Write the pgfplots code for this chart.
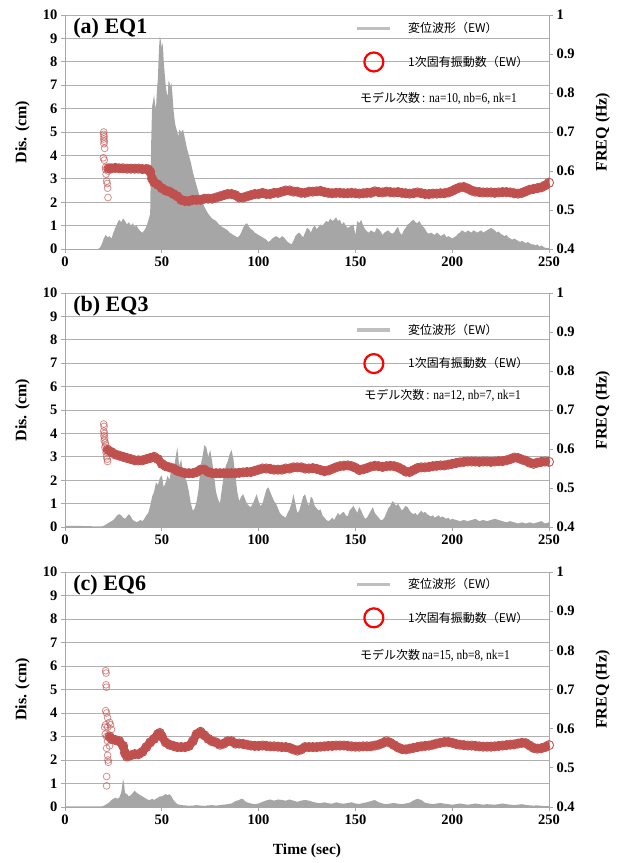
\documentclass[border=0pt]{standalone}
\usepackage{fontspec}
\setmainfont{Liberation Serif}
\newfontfamily\cjk{Noto Sans CJK JP}
\newfontfamily\condserif[FakeStretch=0.85]{Liberation Serif}
\usepackage{pgfplots}
\usepackage{pgfplotstable}
\pgfplotsset{compat=1.18}

\definecolor{dispgray}{HTML}{A6A6A6}
\definecolor{freqred}{HTML}{C0504D}
\definecolor{gridgray}{HTML}{B0B0B0}
\definecolor{axisgray}{HTML}{A8A8A8}
\definecolor{leggray}{HTML}{BFBFBF}
\definecolor{legred}{HTML}{FF0000}

% ---------- EQ1 ----------
\pgfplotstableread[row sep=\\]{t d\\
0 0\\ 17 0\\ 18 0.05\\ 19 0.2\\ 20 0.45\\ 21 0.6\\ 22 0.5\\ 23 0.55\\ 24 0.45\\ 25 0.7\\ 26 0.9\\ 27 1.1\\ 28 1.25\\ 29 1.15\\ 30 1.3\\ 31 1.2\\ 32 1.05\\ 33 1.15\\ 34 1.0\\ 35 1.1\\ 36 0.95\\ 37 1.0\\ 38 0.85\\ 39 0.75\\ 40 0.7\\ 41 0.8\\ 42 0.95\\ 43 1.2\\ 44 1.5\\ 44.5 4.5\\ 45 6.1\\ 45.5 6.3\\ 46 6.6\\ 46.5 6.2\\ 47 6.0\\ 47.5 6.8\\ 48 7.3\\ 48.5 8.5\\ 49 9.1\\ 49.5 8.9\\ 50 8.6\\ 50.5 8.8\\ 51 8.0\\ 51.5 7.5\\ 52 7.0\\ 52.5 6.7\\ 53 6.5\\ 53.5 7.2\\ 54 7.1\\ 54.5 6.9\\ 55 7.1\\ 55.5 6.6\\ 56 6.0\\ 56.5 5.6\\ 57 5.3\\ 58 5.0\\ 58.5 4.8\\ 59 5.1\\ 60 5.0\\ 61 5.1\\ 62 4.7\\ 63 4.3\\ 64 4.0\\ 65 3.7\\ 66 3.3\\ 67 3.0\\ 68 2.7\\ 69 2.4\\ 70 2.2\\ 71 2.0\\ 72 1.8\\ 73 1.65\\ 74 1.5\\ 75 1.4\\ 76 1.3\\ 77 1.25\\ 78 1.2\\ 79 1.1\\ 80 1.0\\ 81 0.95\\ 82 0.9\\ 83 0.85\\ 84 0.8\\ 85 0.7\\ 86 0.65\\ 87 0.6\\ 88 0.55\\ 89 0.5\\ 90 0.55\\ 91 0.7\\ 92 0.9\\ 93 1.05\\ 94 1.1\\ 95 0.95\\ 96 0.85\\ 97 0.8\\ 98 0.7\\ 99 0.65\\ 100 0.6\\ 101 0.55\\ 102 0.5\\ 103 0.45\\ 104 0.4\\ 105 0.3\\ 106 0.35\\ 107 0.45\\ 108 0.5\\ 109 0.55\\ 110 0.5\\ 111 0.45\\ 112 0.55\\ 113 0.5\\ 114 0.4\\ 115 0.3\\ 116 0.25\\ 117 0.2\\ 118 0.35\\ 119 0.55\\ 120 0.65\\ 121 0.7\\ 122 0.6\\ 123 0.5\\ 124 0.7\\ 125 0.9\\ 126 0.85\\ 127 0.7\\ 128 0.9\\ 129 1.0\\ 130 0.85\\ 131 0.95\\ 132 1.05\\ 133 1.0\\ 134 1.1\\ 135 1.2\\ 136 1.15\\ 137 1.3\\ 138 1.2\\ 139 1.25\\ 140 1.35\\ 141 1.2\\ 142 1.25\\ 143 1.05\\ 144 1.15\\ 145 1.0\\ 146 0.9\\ 147 0.95\\ 148 1.0\\ 149 1.05\\ 150 0.6\\ 151 1.2\\ 152 1.1\\ 153 1.25\\ 154 1.0\\ 155 0.85\\ 156 0.75\\ 157 0.7\\ 158 0.8\\ 159 0.75\\ 160 0.7\\ 161 0.9\\ 162 0.85\\ 163 0.75\\ 164 0.6\\ 165 0.7\\ 166 0.75\\ 167 0.8\\ 168 0.7\\ 169 0.65\\ 170 0.7\\ 171 0.85\\ 172 0.95\\ 173 0.7\\ 174 0.6\\ 175 0.8\\ 176 0.9\\ 177 1.05\\ 178 1.1\\ 179 1.2\\ 180 1.25\\ 181 1.15\\ 182 1.1\\ 183 1.2\\ 184 1.05\\ 185 0.95\\ 186 0.85\\ 187 0.7\\ 188 0.65\\ 189 0.7\\ 190 0.65\\ 191 0.6\\ 192 0.7\\ 193 0.65\\ 194 0.55\\ 195 0.6\\ 196 0.65\\ 197 0.5\\ 198 0.55\\ 199 0.5\\ 200 0.45\\ 201 0.5\\ 202 0.55\\ 203 0.65\\ 204 0.7\\ 205 0.8\\ 206 0.75\\ 207 0.7\\ 208 0.8\\ 209 0.75\\ 210 0.7\\ 211 0.8\\ 212 0.75\\ 213 0.7\\ 214 0.75\\ 215 0.8\\ 216 0.7\\ 217 0.75\\ 218 0.8\\ 219 0.85\\ 220 0.9\\ 221 0.85\\ 222 0.8\\ 223 0.7\\ 224 0.75\\ 225 0.65\\ 226 0.6\\ 227 0.55\\ 228 0.6\\ 229 0.5\\ 230 0.45\\ 231 0.4\\ 232 0.45\\ 233 0.4\\ 234 0.35\\ 235 0.3\\ 236 0.35\\ 237 0.3\\ 238 0.25\\ 239 0.3\\ 240 0.25\\ 241 0.2\\ 242 0.2\\ 243 0.15\\ 244 0.2\\ 245 0.1\\ 246 0.15\\ 247 0.1\\ 248 0.05\\ 249 0.05\\ 250 0.03\\
}\dispA

\pgfplotstableread[row sep=\\]{t f\\
20.0 0.700\\ 20.0 0.694\\ 20.2 0.688\\ 20.0 0.682\\ 20.3 0.676\\ 20.1 0.670\\ 20.5 0.658\\ 19.8 0.634\\ 20.3 0.628\\ 21.0 0.610\\ 21.2 0.592\\ 21.5 0.574\\ 21.8 0.568\\ 22.0 0.556\\ 22.2 0.532\\ 21.0 0.604\\ 22.3 0.600\\
}\scatA

\pgfplotstableread[row sep=\\]{t f\\
22.5 0.607\\ 24 0.607\\ 26 0.608\\ 28 0.607\\ 30 0.607\\ 32 0.606\\ 34 0.606\\ 36 0.606\\ 38 0.606\\ 40 0.605\\ 42 0.605\\ 43 0.604\\ 44 0.598\\ 45 0.580\\ 46 0.571\\ 48 0.565\\ 50 0.556\\ 52 0.550\\ 54 0.547\\ 56 0.541\\ 58 0.535\\ 60 0.526\\ 62 0.523\\ 64 0.523\\ 66 0.526\\ 68 0.526\\ 70 0.526\\ 72 0.529\\ 74 0.529\\ 76 0.529\\ 78 0.532\\ 80 0.535\\ 82 0.538\\ 84 0.541\\ 86 0.541\\ 88 0.538\\ 90 0.532\\ 92 0.532\\ 94 0.535\\ 96 0.538\\ 98 0.541\\ 100 0.541\\ 102 0.544\\ 104 0.541\\ 106 0.541\\ 108 0.544\\ 110 0.544\\ 112 0.547\\ 114 0.550\\ 116 0.550\\ 118 0.547\\ 120 0.547\\ 122 0.544\\ 124 0.544\\ 126 0.547\\ 128 0.547\\ 130 0.548\\ 132 0.549\\ 134 0.546\\ 136 0.544\\ 138 0.543\\ 140 0.544\\ 142 0.544\\ 144 0.543\\ 146 0.543\\ 148 0.544\\ 150 0.543\\ 152 0.542\\ 154 0.543\\ 156 0.544\\ 158 0.544\\ 160 0.548\\ 162 0.546\\ 164 0.545\\ 166 0.547\\ 168 0.546\\ 170 0.545\\ 172 0.546\\ 174 0.544\\ 176 0.543\\ 178 0.542\\ 180 0.543\\ 182 0.545\\ 184 0.543\\ 186 0.541\\ 188 0.541\\ 190 0.542\\ 192 0.542\\ 194 0.543\\ 196 0.543\\ 198 0.545\\ 200 0.549\\ 202 0.554\\ 204 0.558\\ 206 0.559\\ 208 0.555\\ 210 0.550\\ 212 0.547\\ 214 0.546\\ 216 0.545\\ 218 0.545\\ 220 0.545\\ 222 0.544\\ 224 0.545\\ 226 0.546\\ 228 0.546\\ 230 0.545\\ 232 0.543\\ 234 0.542\\ 236 0.544\\ 238 0.548\\ 240 0.552\\ 242 0.554\\ 244 0.556\\ 246 0.558\\ 248 0.563\\ 250 0.570\\
}\bandA

% ---------- EQ3 ----------
\pgfplotstableread[row sep=\\]{t d\\
0 0.05\\ 5 0.05\\ 10 0.04\\ 15 0.03\\ 19 0.03\\ 20 0.05\\ 21 0.1\\ 22 0.15\\ 23 0.2\\ 24 0.25\\ 25 0.3\\ 26 0.4\\ 27 0.5\\ 28 0.55\\ 29 0.5\\ 30 0.4\\ 31 0.35\\ 32 0.45\\ 33 0.55\\ 34 0.45\\ 35 0.3\\ 36 0.25\\ 37 0.2\\ 38 0.25\\ 39 0.3\\ 40 0.25\\ 41 0.35\\ 42 0.5\\ 43 0.6\\ 44 0.9\\ 45 1.3\\ 46 1.5\\ 47 1.9\\ 48 1.8\\ 49 2.1\\ 50 2.2\\ 51 1.7\\ 52 1.9\\ 53 2.2\\ 54 2.0\\ 55 2.6\\ 56 2.4\\ 57 2.9\\ 58 3.4\\ 59 2.6\\ 60 2.9\\ 61 2.3\\ 62 2.1\\ 63 1.9\\ 64 1.5\\ 65 1.0\\ 66 0.7\\ 67 0.8\\ 68 1.1\\ 69 1.6\\ 70 2.6\\ 71 3.0\\ 72 3.5\\ 73 3.4\\ 74 3.0\\ 75 3.3\\ 76 2.8\\ 77 2.2\\ 78 1.5\\ 79 1.2\\ 80 1.0\\ 81 1.6\\ 82 2.2\\ 83 2.6\\ 84 2.8\\ 85 3.1\\ 86 3.3\\ 87 2.9\\ 88 2.2\\ 89 1.5\\ 90 1.1\\ 91 1.3\\ 92 1.4\\ 93 1.2\\ 94 1.0\\ 95 0.9\\ 96 0.85\\ 97 1.0\\ 98 1.2\\ 99 1.4\\ 100 1.1\\ 101 0.9\\ 102 1.0\\ 103 1.3\\ 104 1.6\\ 105 1.7\\ 106 1.5\\ 107 1.3\\ 108 1.1\\ 109 1.0\\ 110 0.8\\ 111 0.6\\ 112 0.5\\ 113 0.45\\ 114 0.4\\ 115 0.6\\ 116 0.75\\ 117 1.0\\ 118 1.4\\ 119 1.0\\ 120 0.6\\ 121 0.7\\ 122 1.0\\ 123 1.3\\ 124 1.4\\ 125 1.1\\ 126 0.9\\ 127 1.3\\ 128 1.2\\ 129 0.9\\ 130 0.8\\ 131 0.7\\ 132 0.75\\ 133 0.5\\ 134 0.4\\ 135 0.3\\ 136 0.25\\ 137 0.3\\ 138 0.4\\ 139 0.3\\ 140 0.45\\ 141 0.6\\ 142 0.5\\ 143 0.6\\ 144 0.65\\ 145 0.5\\ 146 0.45\\ 147 0.7\\ 148 0.8\\ 149 0.9\\ 150 0.75\\ 151 0.6\\ 152 0.85\\ 153 0.7\\ 154 0.5\\ 155 0.35\\ 156 0.4\\ 157 0.55\\ 158 0.7\\ 159 0.85\\ 160 0.6\\ 161 0.5\\ 162 0.4\\ 163 0.3\\ 164 0.3\\ 165 0.4\\ 166 0.6\\ 167 0.8\\ 168 0.9\\ 169 1.1\\ 170 1.05\\ 171 0.9\\ 172 1.0\\ 173 0.85\\ 174 0.7\\ 175 0.8\\ 176 0.9\\ 177 0.85\\ 178 0.7\\ 179 0.6\\ 180 0.55\\ 181 0.6\\ 182 0.5\\ 183 0.6\\ 184 0.7\\ 185 0.6\\ 186 0.65\\ 187 0.55\\ 188 0.5\\ 189 0.45\\ 190 0.5\\ 191 0.4\\ 192 0.45\\ 193 0.5\\ 194 0.4\\ 195 0.45\\ 196 0.4\\ 197 0.35\\ 198 0.4\\ 199 0.3\\ 200 0.35\\ 202 0.3\\ 204 0.25\\ 206 0.3\\ 208 0.25\\ 210 0.3\\ 212 0.35\\ 214 0.25\\ 216 0.3\\ 218 0.25\\ 220 0.3\\ 222 0.35\\ 224 0.3\\ 226 0.25\\ 228 0.2\\ 230 0.25\\ 232 0.2\\ 234 0.15\\ 236 0.2\\ 238 0.15\\ 240 0.2\\ 242 0.15\\ 244 0.2\\ 246 0.25\\ 248 0.15\\ 250 0.2\\
}\dispB

\pgfplotstableread[row sep=\\]{t f\\
20.0 0.664\\ 20.2 0.658\\ 20.0 0.646\\ 20.4 0.640\\ 20.1 0.634\\ 20.5 0.628\\ 20.3 0.622\\ 20.8 0.616\\ 21.0 0.610\\ 20.6 0.604\\ 21.2 0.592\\ 21.5 0.580\\ 21.8 0.574\\ 22.0 0.568\\
}\scatB

\pgfplotstableread[row sep=\\]{t f\\
22 0.598\\ 24 0.592\\ 26 0.586\\ 28 0.583\\ 30 0.580\\ 32 0.577\\ 34 0.574\\ 36 0.571\\ 38 0.571\\ 40 0.571\\ 42 0.574\\ 44 0.577\\ 46 0.580\\ 48 0.574\\ 50 0.562\\ 52 0.556\\ 54 0.553\\ 56 0.550\\ 58 0.544\\ 60 0.541\\ 62 0.538\\ 64 0.538\\ 66 0.538\\ 68 0.541\\ 70 0.547\\ 72 0.547\\ 74 0.541\\ 76 0.538\\ 78 0.538\\ 80 0.538\\ 82 0.538\\ 84 0.538\\ 86 0.538\\ 88 0.538\\ 90 0.539\\ 92 0.540\\ 94 0.541\\ 96 0.541\\ 98 0.544\\ 100 0.547\\ 102 0.550\\ 104 0.550\\ 106 0.549\\ 108 0.547\\ 110 0.547\\ 112 0.547\\ 114 0.550\\ 116 0.550\\ 118 0.553\\ 120 0.553\\ 122 0.553\\ 124 0.550\\ 126 0.550\\ 128 0.551\\ 130 0.549\\ 132 0.546\\ 134 0.543\\ 136 0.545\\ 138 0.549\\ 140 0.553\\ 142 0.556\\ 144 0.557\\ 146 0.558\\ 148 0.556\\ 150 0.552\\ 152 0.546\\ 154 0.548\\ 156 0.551\\ 158 0.555\\ 160 0.557\\ 162 0.556\\ 164 0.554\\ 166 0.556\\ 168 0.557\\ 170 0.556\\ 172 0.553\\ 174 0.548\\ 176 0.542\\ 178 0.541\\ 180 0.546\\ 182 0.551\\ 184 0.553\\ 186 0.553\\ 188 0.554\\ 190 0.556\\ 192 0.557\\ 194 0.558\\ 196 0.558\\ 198 0.560\\ 200 0.562\\ 202 0.564\\ 204 0.566\\ 206 0.567\\ 208 0.568\\ 210 0.568\\ 212 0.568\\ 214 0.567\\ 216 0.568\\ 218 0.568\\ 220 0.567\\ 222 0.568\\ 224 0.569\\ 226 0.569\\ 228 0.571\\ 230 0.574\\ 232 0.578\\ 234 0.577\\ 236 0.573\\ 238 0.570\\ 240 0.565\\ 242 0.562\\ 244 0.565\\ 246 0.567\\ 248 0.568\\ 250 0.567\\
}\bandB

% ---------- EQ6 ----------
\pgfplotstableread[row sep=\\]{t d\\
0 0.03\\ 10 0.03\\ 19 0.03\\ 20 0.05\\ 21 0.1\\ 22 0.15\\ 23 0.2\\ 24 0.3\\ 25 0.35\\ 26 0.4\\ 27 0.35\\ 28 0.4\\ 29 0.6\\ 30 1.2\\ 30.5 1.0\\ 31 0.6\\ 32 0.55\\ 33 0.45\\ 34 0.5\\ 35 0.6\\ 36 0.7\\ 37 0.6\\ 38 0.55\\ 39 0.5\\ 40 0.45\\ 41 0.4\\ 42 0.35\\ 43 0.3\\ 44 0.3\\ 45 0.35\\ 46 0.3\\ 47 0.35\\ 48 0.4\\ 49 0.45\\ 50 0.45\\ 51 0.5\\ 52 0.55\\ 53 0.5\\ 54 0.55\\ 55 0.45\\ 56 0.3\\ 57 0.2\\ 58 0.12\\ 59 0.1\\ 60 0.08\\ 62 0.07\\ 64 0.05\\ 66 0.06\\ 68 0.08\\ 70 0.06\\ 72 0.05\\ 74 0.07\\ 76 0.08\\ 78 0.06\\ 80 0.08\\ 82 0.1\\ 84 0.12\\ 86 0.15\\ 88 0.25\\ 90 0.3\\ 91 0.35\\ 92 0.33\\ 93 0.25\\ 94 0.2\\ 96 0.15\\ 98 0.12\\ 100 0.15\\ 102 0.22\\ 104 0.28\\ 106 0.32\\ 108 0.27\\ 110 0.32\\ 112 0.3\\ 114 0.27\\ 116 0.32\\ 118 0.27\\ 120 0.22\\ 122 0.27\\ 124 0.3\\ 126 0.27\\ 128 0.22\\ 130 0.18\\ 132 0.16\\ 134 0.2\\ 136 0.16\\ 138 0.14\\ 140 0.2\\ 142 0.16\\ 144 0.14\\ 146 0.17\\ 148 0.2\\ 150 0.15\\ 152 0.13\\ 154 0.17\\ 156 0.2\\ 158 0.25\\ 160 0.3\\ 162 0.2\\ 164 0.15\\ 166 0.12\\ 168 0.15\\ 170 0.17\\ 172 0.14\\ 174 0.12\\ 176 0.15\\ 178 0.18\\ 180 0.28\\ 182 0.35\\ 184 0.3\\ 186 0.18\\ 188 0.15\\ 190 0.12\\ 192 0.15\\ 194 0.17\\ 196 0.14\\ 198 0.12\\ 200 0.1\\ 202 0.12\\ 204 0.15\\ 206 0.12\\ 208 0.1\\ 210 0.12\\ 212 0.15\\ 214 0.12\\ 216 0.1\\ 218 0.12\\ 220 0.11\\ 222 0.1\\ 224 0.12\\ 226 0.15\\ 228 0.12\\ 230 0.1\\ 232 0.08\\ 234 0.1\\ 236 0.12\\ 238 0.09\\ 240 0.07\\ 242 0.06\\ 244 0.07\\ 246 0.05\\ 248 0.04\\ 250 0.04\\
}\dispC

\pgfplotstableread[row sep=\\]{t f\\
21.0 0.748\\ 21.2 0.742\\ 21.2 0.712\\ 21.4 0.706\\ 21.0 0.646\\ 21.5 0.640\\ 22.0 0.628\\ 23.0 0.616\\ 21.0 0.610\\ 22.0 0.604\\ 23.5 0.610\\ 24.0 0.598\\ 21.5 0.580\\ 22.0 0.568\\ 21.5 0.550\\ 23.0 0.556\\ 22.0 0.532\\ 22.2 0.520\\ 22.4 0.514\\ 21.5 0.478\\ 21.5 0.454\\ 20.5 0.604\\ 20.8 0.586\\
}\scatC

\pgfplotstableread[row sep=\\]{t f\\
23 0.580\\ 24 0.574\\ 26 0.571\\ 28 0.568\\ 30 0.556\\ 31 0.538\\ 32 0.529\\ 34 0.532\\ 36 0.535\\ 38 0.535\\ 40 0.541\\ 42 0.553\\ 44 0.565\\ 46 0.574\\ 48 0.586\\ 49 0.589\\ 50 0.580\\ 52 0.565\\ 54 0.559\\ 56 0.556\\ 58 0.553\\ 60 0.553\\ 62 0.553\\ 64 0.556\\ 66 0.568\\ 68 0.586\\ 70 0.592\\ 72 0.583\\ 74 0.574\\ 76 0.568\\ 78 0.565\\ 80 0.559\\ 82 0.562\\ 84 0.568\\ 86 0.568\\ 88 0.562\\ 90 0.562\\ 92 0.561\\ 94 0.559\\ 96 0.557\\ 98 0.556\\ 100 0.556\\ 102 0.557\\ 104 0.556\\ 106 0.555\\ 108 0.555\\ 110 0.554\\ 112 0.553\\ 114 0.553\\ 116 0.551\\ 118 0.547\\ 120 0.544\\ 122 0.547\\ 124 0.553\\ 126 0.553\\ 128 0.553\\ 130 0.553\\ 132 0.554\\ 134 0.555\\ 136 0.556\\ 138 0.556\\ 140 0.557\\ 142 0.557\\ 144 0.557\\ 146 0.556\\ 148 0.555\\ 150 0.554\\ 152 0.554\\ 154 0.555\\ 156 0.555\\ 158 0.555\\ 160 0.557\\ 162 0.559\\ 164 0.563\\ 166 0.568\\ 168 0.564\\ 170 0.558\\ 172 0.552\\ 174 0.548\\ 176 0.547\\ 178 0.549\\ 180 0.551\\ 182 0.553\\ 184 0.555\\ 186 0.556\\ 188 0.557\\ 190 0.559\\ 192 0.562\\ 194 0.564\\ 196 0.566\\ 198 0.566\\ 200 0.564\\ 202 0.561\\ 204 0.559\\ 206 0.558\\ 208 0.557\\ 210 0.557\\ 212 0.556\\ 214 0.555\\ 216 0.554\\ 218 0.554\\ 220 0.554\\ 222 0.555\\ 224 0.556\\ 226 0.557\\ 228 0.558\\ 230 0.559\\ 232 0.560\\ 234 0.562\\ 236 0.564\\ 238 0.563\\ 240 0.557\\ 242 0.551\\ 244 0.549\\ 246 0.550\\ 248 0.553\\ 250 0.558\\
}\bandC

\pgfplotsset{
  common/.style={
    scale only axis, width=484pt,
    xmin=0, xmax=250,
    axis line style={axisgray, line width=0.9pt},
    tick style={axisgray, line width=0.9pt},
    tick align=outside, major tick length=4pt,
    ticklabel style={font=\bfseries\fontsize{14.5}{14.5}\selectfont},
    /pgf/number format/assume math mode=true,
  },
  dispaxis/.style={
    common,
    ymin=0, ymax=10,
    axis y line*=left, axis x line*=bottom,
    xtick={0,50,100,150,200,250}, ytick={0,1,...,10},
    ymajorgrids, grid style={gridgray, line width=0.9pt},
    ylabel={Dis. (cm)},
    ylabel style={at={(axis description cs:-0.088,0.5)}, anchor=center,
      font=\bfseries\fontsize{16}{16}\selectfont},
  },
  freqaxis/.style={
    common,
    ymin=0.4, ymax=1,
    axis y line*=right, hide x axis,
    ytick={0.4,0.5,0.6,0.7,0.8,0.9,1},
    ylabel={FREQ (Hz)},
    ylabel style={at={(axis description cs:1.111,0.5)}, anchor=center,
      font=\bfseries\fontsize{16}{16}\selectfont},
    legend style={draw=none, fill=none, inner sep=0pt, row sep=15pt,
      font=\cjk\fontsize{12}{14}\selectfont,
      /tikz/every odd column/.append style={column sep=14pt}},
    legend cell align=left,
  },
  scatterstyle/.style={only marks, mark=o, mark size=3.4pt,
    mark options={freqred, opacity=0.65, line width=0.8pt}},
  bandstyle/.style={freqred, line width=8pt, line join=round, line cap=round,
    mark=o, mark size=4.6pt, mark options={solid, line width=0.9pt},
    legend image code/.code={\draw[legred, line width=2.2pt] (16.5pt,0pt) circle (9.5pt);}},
  graylegend/.style={legend image code/.code={\draw[leggray, line width=3.5pt] (0pt,0pt) -- (33pt,0pt);}},
}
\tikzset{paneltitle/.style={anchor=west, font=\bfseries\fontsize{22}{22}\selectfont}}

\newcommand\modelfont{\cjk\fontsize{12}{12}\selectfont}
\newcommand\paramfont{\condserif\fontsize{13.5}{12}\selectfont}

\begin{document}
\begin{tikzpicture}
\path[use as bounding box] (0,0) rectangle (622pt,-863pt);

% ----- (a) EQ1 -----
\begin{axis}[dispaxis, height=234pt, at={(65pt,-15pt)}, anchor=north west]
  \addplot[fill=dispgray, draw=none] table[x=t, y=d] {\dispA} \closedcycle;
  \node[paneltitle] at (axis description cs:0.010,0.945) {(a) EQ1};
  \node[anchor=west, inner sep=0pt] at (axis description cs:0.6095,0.645)
    {\modelfont モデル次数\,\paramfont: na=10, nb=6, nk=1};
\end{axis}
\begin{axis}[freqaxis, height=234pt, at={(65pt,-15pt)}, anchor=north west,
  legend style={at={(axis description cs:0.60,0.977)}, anchor=north west}]
  \addlegendimage{graylegend}
  \addlegendentry{変位波形（EW）}
  \addplot[scatterstyle, forget plot] table[x=t, y=f] {\scatA};
  \addplot[bandstyle] table[x=t, y=f] {\bandA};
  \addlegendentry{1次固有振動数（EW）}
\end{axis}

% ----- (b) EQ3 -----
\begin{axis}[dispaxis, height=234pt, at={(65pt,-293pt)}, anchor=north west]
  \addplot[fill=dispgray, draw=none] table[x=t, y=d] {\dispB} \closedcycle;
  \node[paneltitle] at (axis description cs:0.010,0.945) {(b) EQ3};
  \node[anchor=west, inner sep=0pt] at (axis description cs:0.618,0.564)
    {\modelfont モデル次数\,\paramfont: na=12, nb=7, nk=1};
\end{axis}
\begin{axis}[freqaxis, height=234pt, at={(65pt,-293pt)}, anchor=north west,
  legend style={at={(axis description cs:0.60,0.876)}, anchor=north west}]
  \addlegendimage{graylegend}
  \addlegendentry{変位波形（EW）}
  \addplot[scatterstyle, forget plot] table[x=t, y=f] {\scatB};
  \addplot[bandstyle] table[x=t, y=f] {\bandB};
  \addlegendentry{1次固有振動数（EW）}
\end{axis}

% ----- (c) EQ6 -----
\begin{axis}[dispaxis, height=235pt, at={(65pt,-572pt)}, anchor=north west,
  xlabel={Time (sec)},
  xlabel style={at={(axis description cs:0.5,-0.187)}, anchor=center,
    font=\bfseries\fontsize{15.5}{15.5}\selectfont}]
  \addplot[fill=dispgray, draw=none] table[x=t, y=d] {\dispC} \closedcycle;
  \node[paneltitle] at (axis description cs:0.010,0.945) {(c) EQ6};
  \node[anchor=west, inner sep=0pt] at (axis description cs:0.6095,0.647)
    {\modelfont モデル次数\,\paramfont na=15, nb=8, nk=1};
\end{axis}
\begin{axis}[freqaxis, height=235pt, at={(65pt,-572pt)}, anchor=north west,
  legend style={at={(axis description cs:0.60,0.982)}, anchor=north west}]
  \addlegendimage{graylegend}
  \addlegendentry{変位波形（EW）}
  \addplot[scatterstyle, forget plot] table[x=t, y=f] {\scatC};
  \addplot[bandstyle] table[x=t, y=f] {\bandC};
  \addlegendentry{1次固有振動数（EW）}
\end{axis}
\end{tikzpicture}
\end{document}
